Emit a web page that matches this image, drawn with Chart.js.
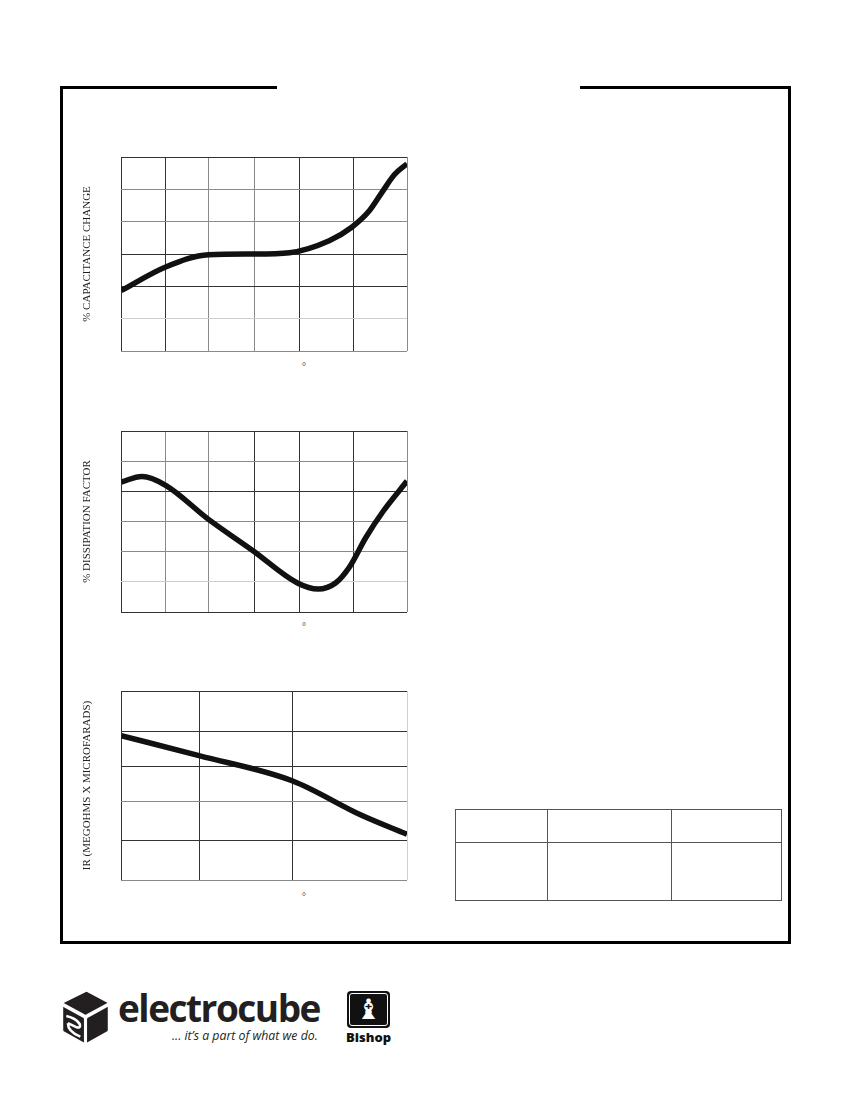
<!DOCTYPE html>
<html lang="en">
<head>
<meta charset="UTF-8">
<title>Electrocube curves</title>
<script src="https://cdn.jsdelivr.net/npm/chart.js"></script>
<style>
  body { margin: 0; background: #fff; }
  .pagina { position: relative; width: 850px; height: 1100px; overflow: hidden; background: #fff; }
  .moldura { position: absolute; left: 60px; top: 86px; width: 725px; height: 852px; border: 3px solid #000; }
  .corte { position: absolute; left: 277px; top: 84px; width: 303px; height: 7px; background: #fff; }
  .grafico { position: absolute; left: 70px; width: 343px; }
  .grau { position: absolute; left: 302px; font: 10px "Liberation Serif", serif; color: #333; }
  table.tab { position: absolute; left: 455px; top: 809px; border-collapse: collapse; }
  table.tab td { border: 1px solid #555; padding: 0; }
  .logo { position: absolute; left: 118px; top: 982px; font: 700 37px "Open Sans", sans-serif; color: #231f20; letter-spacing: -1.5px; }
  .slogan { position: absolute; left: 172px; top: 1027px; font: italic 12.3px "Open Sans", sans-serif; color: #231f20; }
  .bispo { position: absolute; left: 347px; top: 991px; width: 43px; height: 37px; background: #111; border-radius: 4px; }
  .bispo div { position: absolute; left: 2px; top: 2px; right: 2px; bottom: 2px; border: 1px solid #fff; border-radius: 3px; color: #fff; text-align: center; font: 28px "DejaVu Sans", sans-serif; line-height: 32px; }
  .bispo-txt { position: absolute; left: 345px; top: 1028px; width: 47px; text-align: center; font: 800 13px "Open Sans", sans-serif; color: #111; }
</style>
</head>
<body>
<div class="pagina">
  <div class="moldura"></div>
  <div class="corte"></div>

  <div class="grafico" style="top:151px;height:206px;"><canvas id="grafCap"></canvas></div>
  <div class="grau" style="top:361px;">°</div>

  <div class="grafico" style="top:425px;height:193px;"><canvas id="grafDf"></canvas></div>
  <div class="grau" style="top:621px;">°</div>

  <div class="grafico" style="top:685px;height:201px;"><canvas id="grafIr"></canvas></div>
  <div class="grau" style="top:891px;">°</div>

  <table class="tab">
    <tr style="height:33px;"><td style="width:91px;"></td><td style="width:123px;"></td><td style="width:109px;"></td></tr>
    <tr style="height:58px;"><td></td><td></td><td></td></tr>
  </table>

  <svg style="position:absolute;left:59px;top:989px;" width="53" height="57" viewBox="0 0 100 110">
    <g fill="#231f20" stroke="#fff" stroke-width="4" stroke-linejoin="round">
      <path d="M50 4 Q52 3 54 4 L93 25 Q96 27 93 29 L52 51 Q50 52 48 51 L7 29 Q4 27 7 25 Z"/>
      <path d="M5 31 L47 54 Q49 55 49 58 L49 104 Q49 107 46 105 L8 84 Q5 82 5 79 Z"/>
      <path d="M51 58 Q51 55 53 54 L95 31 L95 79 Q95 82 92 84 L54 105 Q51 107 51 104 Z"/>
    </g>
    <path d="M13 52 Q32 56 39 68 Q41 76 33 74 L16 66 M16 66 Q16 82 40 92" fill="none" stroke="#fff" stroke-width="5"/>
  </svg>
  <div class="logo">electrocube</div>
  <div class="slogan">... it’s a part of what we do.</div>
  <div class="bispo"><div>♝</div></div>
  <div class="bispo-txt">Bishop</div>
</div>

<script>
// temperatura (graus) e valores
var tempCap = [-55, -27, 0, 28, 51, 76, 90, 101, 109, 117, 125];
var valCap  = [1.87, 2.6, 2.98, 3.0, 3.04, 3.41, 3.82, 4.32, 4.89, 5.45, 5.79];
var tempDf = [-55, -42, -27, 0, 28, 56, 69, 80, 89, 99, 110, 125];
var valDf  = [4.31, 4.49, 4.2, 3.07, 2.03, 0.96, 0.76, 0.96, 1.51, 2.46, 3.34, 4.34];
var tempIr = [-55, -6, 53, 96, 125];
var valIr  = [3.82, 3.29, 2.62, 1.72, 1.21];

// linhas de grade
var gradeX6 = [-55, -27, 0, 29, 57, 91, 125];
var gradeX3 = [-55, -6, 53, 125];
var gradeY6 = [0, 1, 2, 3, 4, 5, 6];
var gradeIr = [0, 1.05, 2.07, 3.01, 3.94, 5];

var escuro = '#333', cinza = '#8a8a8a', claro = '#cfcfcf';

function montarGrafico(id, temps, vals, ticksX, ticksY, titulo, coresX, coresY) {
    var pontos = temps.map(function (t, i) { return { x: t, y: vals[i] }; });
    return new Chart(document.getElementById(id), {
        type: 'line',
        data: {
            datasets: [{
                data: pontos,
                borderColor: '#111',
                borderWidth: 5.5,
                pointRadius: 0,
                cubicInterpolationMode: 'monotone',
                fill: false
            }]
        },
        options: {
            animation: false,
            responsive: true,
            maintainAspectRatio: false,
            layout: { padding: { top: 6, right: 6, bottom: 6, left: 0 } },
            plugins: { legend: { display: false }, tooltip: { enabled: false } },
            scales: {
                x: {
                    type: 'linear',
                    min: ticksX[0],
                    max: ticksX[ticksX.length - 1],
                    afterBuildTicks: function (ax) { ax.ticks = ticksX.map(function (v) { return { value: v }; }); },
                    ticks: { display: false },
                    grid: { color: function (c) { return coresX[c.index]; }, lineWidth: 1, drawTicks: false },
                    border: { display: false }
                },
                y: {
                    type: 'linear',
                    min: ticksY[0],
                    max: ticksY[ticksY.length - 1],
                    afterBuildTicks: function (ax) { ax.ticks = ticksY.map(function (v) { return { value: v }; }); },
                    ticks: { display: false },
                    grid: { color: function (c) { return coresY[c.index]; }, lineWidth: 1, drawTicks: false },
                    border: { display: false },
                    title: {
                        display: true,
                        text: titulo,
                        color: '#222',
                        font: { family: 'Liberation Serif', size: 11 },
                        padding: { top: 11, bottom: 27 }
                    }
                }
            }
        }
    });
}

montarGrafico('grafCap', tempCap, valCap, gradeX6, gradeY6, '% CAPACITANCE CHANGE',
    [escuro, escuro, cinza, cinza, escuro, escuro, cinza],
    [cinza, claro, escuro, escuro, cinza, cinza, escuro]);

montarGrafico('grafDf', tempDf, valDf, gradeX6, gradeY6, '% DISSIPATION FACTOR',
    [escuro, cinza, cinza, escuro, escuro, escuro, cinza],
    [escuro, claro, cinza, cinza, escuro, cinza, escuro]);

montarGrafico('grafIr', tempIr, valIr, gradeX3, gradeIr, 'IR (MEGOHMS X MICROFARADS)',
    [escuro, escuro, escuro, claro],
    [cinza, escuro, cinza, escuro, escuro, escuro]);
</script>
</body>
</html>
